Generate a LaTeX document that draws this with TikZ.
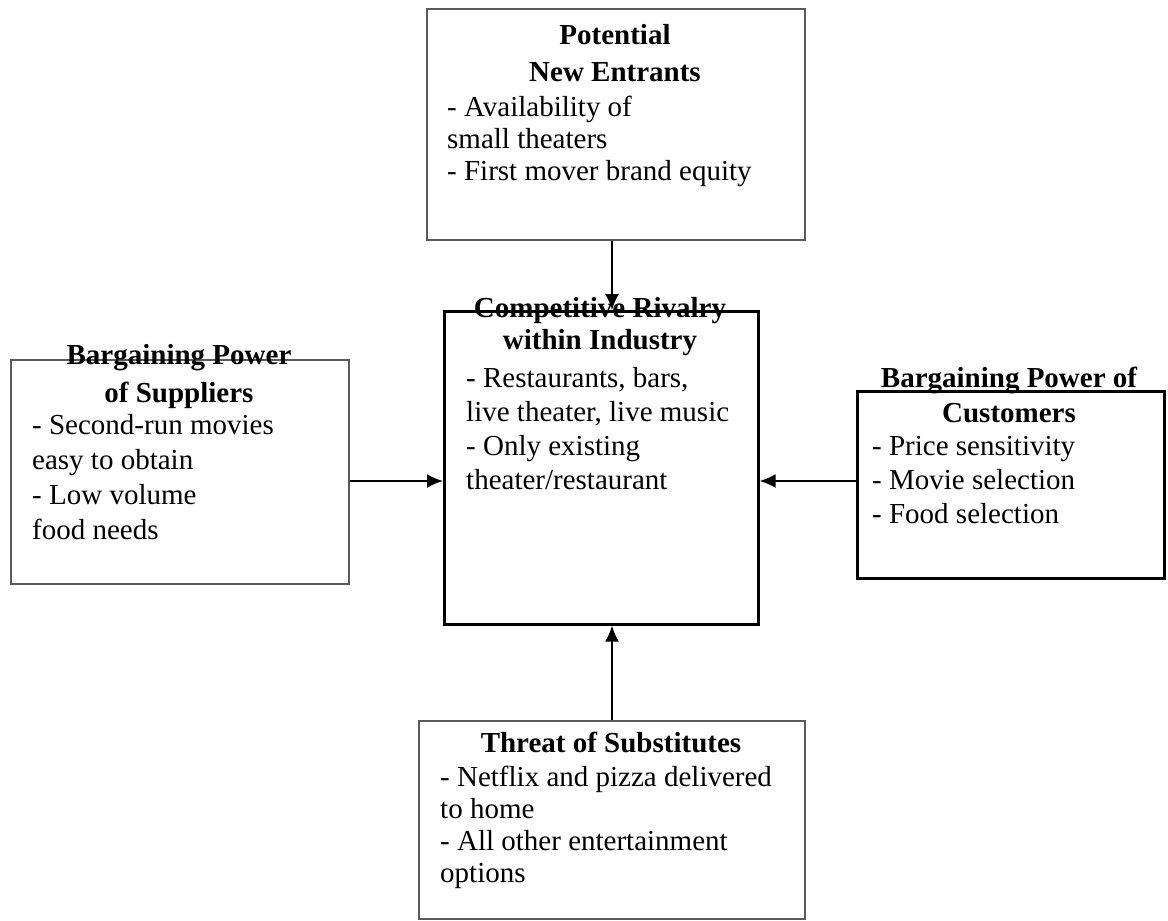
\documentclass[tikz,border=0pt]{standalone}
\usepackage{fontspec}
\setmainfont{Liberation Serif}
\usetikzlibrary{arrows.meta,positioning}
\newcommand{\bodytext}[1]{\fontsize{29}{#1}\selectfont}
\tikzset{
	forcebox/.style={draw=gray!70!black, line width=1.8pt, inner sep=0pt, anchor=north west},
	keybox/.style={draw=black, line width=2.6pt, inner sep=0pt, anchor=north west},
	heading/.style={anchor=north, align=center, inner sep=0pt, font=\bodytext{#1}\bfseries},
	bullets/.style={anchor=north west, align=left, inner sep=0pt, font=\bodytext{#1}},
	flow/.style={-{Latex[length=16pt,width=14pt]}, line width=1.9pt}
}

\begin{document}
\begin{tikzpicture}[x=1pt, y=-1pt]
	\useasboundingbox (0,0) rectangle (1168,921);

	% Boxes of the five forces
	\node[forcebox, minimum width=378pt, minimum height=231pt] (entrants) at (426,8) {};
	\node[forcebox, minimum width=338pt, minimum height=224pt] (suppliers) at (10,359) {};
	\node[keybox, minimum width=314pt, minimum height=313pt] (rivalry) at (443,310) {};
	\node[keybox, minimum width=307pt, minimum height=187pt] (customers) at (856,390) {};
	\node[forcebox, minimum width=386pt, minimum height=198pt] (substitutes) at (418,720) {};

	% Titles
	\node[heading=37pt] (entrantstitle) at (615,24) {Potential\\ New Entrants};
	\node[heading=38pt] (supplierstitle) at (179,344) {Bargaining Power\\of Suppliers};
	\node[heading=32pt] (rivalrytitle) at (600,297) {Competitive Rivalry\\within Industry};
	\node[heading=35pt] (customerstitle) at (1009,367) {Bargaining Power of\\Customers};
	\node[heading=35pt] (substitutestitle) at (611,732) {Threat of Substitutes};

	% Items
	\node[bullets=32pt] (entrantsitems) at (447,96)
	{- Availability of\\small theaters\\- First mover brand equity};
	\node[bullets=35pt] (suppliersitems) at (32,414)
	{- Second-run movies\\easy to obtain\\- Low volume\\food needs};
	\node[bullets=34pt] (rivalryitems) at (466,367)
	{- Restaurants, bars,\\live theater, live music\\- Only existing\\theater/restaurant};
	\node[bullets=34pt] (customersitems) at (872,436)
	{- Price sensitivity\\- Movie selection\\- Food selection};
	\node[bullets=32pt] (substitutesitems) at (440,766)
	{- Netflix and pizza delivered\\to home\\- All other entertainment\\options};

	% Arrows into the rivalry box
	\coordinate (side) at (0,481);
	\coordinate (down) at (612,0);
	\draw[flow] (entrants.south -| down) -- (rivalry.north -| down);
	\draw[flow] (substitutes.north -| down) -- (rivalry.south -| down);
	\draw[flow] (suppliers.east |- side) -- (rivalry.west |- side);
	\draw[flow] (customers.west |- side) -- (rivalry.east |- side);
\end{tikzpicture}
\end{document}
